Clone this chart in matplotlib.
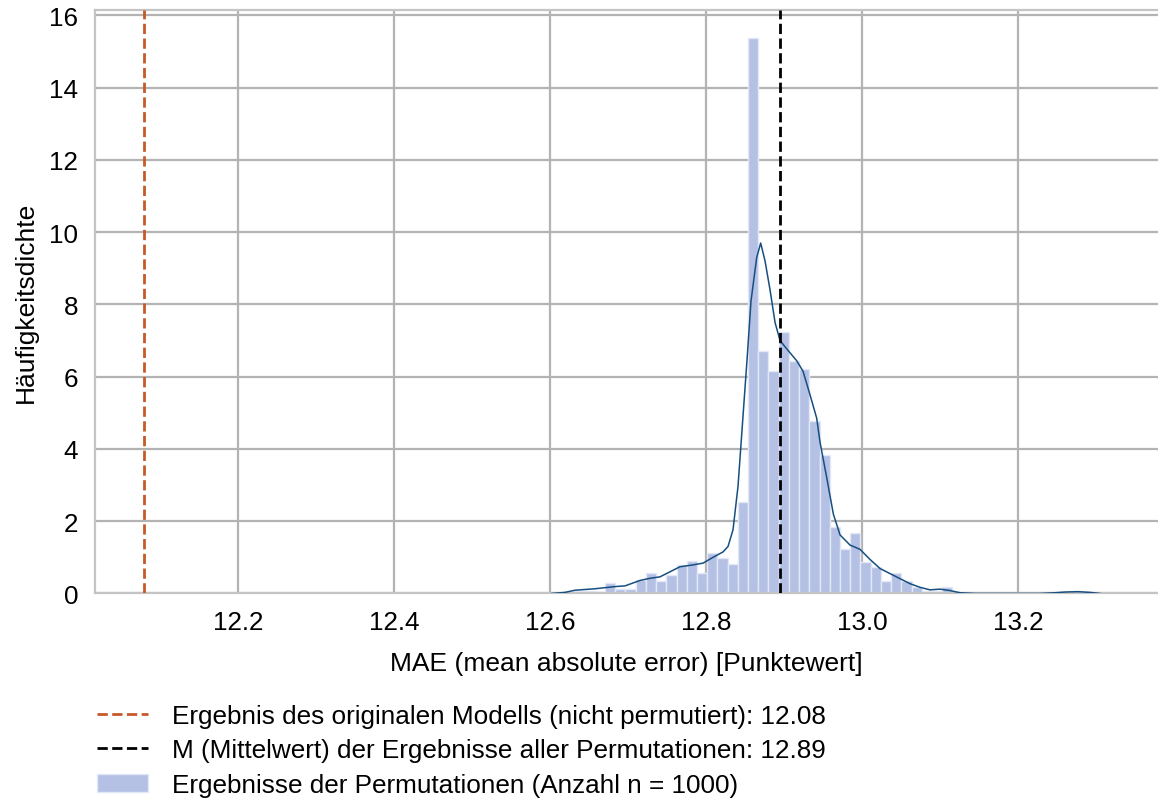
import numpy as np
import matplotlib
matplotlib.use("Agg")
import matplotlib.pyplot as plt
from matplotlib.patches import Patch
from matplotlib.lines import Line2D

# histogram of the permutation results (density per bin)
bin_start = 12.6308
bin_width = 0.0131
densities = [0.08, 0.07, 0.05, 0.28, 0.12, 0.13, 0.37, 0.57, 0.34, 0.50,
             0.80, 0.89, 0.57, 1.11, 0.98, 0.81, 2.54, 15.38, 6.70, 6.15,
             7.25, 6.44, 6.21, 4.76, 3.83, 1.85, 1.23, 1.68, 0.88, 0.74,
             0.35, 0.57, 0.35, 0.19, 0.06, 0.06, 0.19, 0, 0, 0,
             0, 0, 0, 0, 0, 0, 0, 0, 0, 0]

# kde curve
kde_x = [12.6018, 12.6188, 12.6317, 12.6573, 12.6829, 12.6958, 12.7150, 12.7278,
         12.7406, 12.7535, 12.7663, 12.7830, 12.7958, 12.8086, 12.8214, 12.8278,
         12.8342, 12.8406, 12.8470, 12.8522, 12.8573, 12.8646, 12.8697, 12.8753,
         12.8817, 12.8881, 12.8945, 12.9031, 12.9159, 12.9240, 12.9329, 12.9415,
         12.9458, 12.9544, 12.9628, 12.9714, 12.9842, 12.9971, 13.0099, 13.0227,
         13.0355, 13.0483, 13.0612, 13.0740, 13.0868, 13.0996, 13.1124, 13.1253,
         13.1445, 13.2278, 13.2470, 13.2599, 13.2765, 13.2919, 13.3047]
kde_y = [0.0, 0.03, 0.09, 0.13, 0.19, 0.21, 0.36, 0.42,
         0.46, 0.60, 0.74, 0.79, 0.84, 1.00, 1.15, 1.30,
         1.76, 2.96, 4.90, 6.47, 8.10, 9.30, 9.70, 9.20,
         8.40, 7.50, 7.00, 6.77, 6.44, 6.15, 5.50, 4.85,
         4.18, 3.20, 2.20, 1.62, 1.34, 1.22, 0.94, 0.69,
         0.55, 0.41, 0.27, 0.17, 0.10, 0.12, 0.08, 0.02,
         0.0, 0.0, 0.02, 0.04, 0.05, 0.03, 0.0]

orig_mae = 12.079
perm_mean = 12.894
n_perm = 1000

x_ticks = [12.2, 12.4, 12.6, 12.8, 13.0, 13.2]
y_ticks = [0, 2, 4, 6, 8, 10, 12, 14, 16]

plt.rcParams['font.family'] = ['Liberation Sans', 'DejaVu Sans']

fig = plt.figure(figsize=(11.58, 8.03), dpi=100)
ax = fig.add_axes([0.082, 0.2597, 0.918, 0.7266])

edges = bin_start + bin_width * np.arange(len(densities))
ax.bar(edges, densities, width=bin_width, align='edge', color='#b4c0e4',
       edgecolor='#e3e8f6', linewidth=1, zorder=2)
ax.plot(kde_x, kde_y, color='#174f80', linewidth=1.1, zorder=3)

ax.axvline(orig_mae, color='#c55a28', linestyle='--', linewidth=2, zorder=4)
ax.axvline(perm_mean, color='black', linestyle='--', linewidth=2, zorder=4)

ax.set_xlim(12.0163, 13.379)
ax.set_ylim(0, 16.15)
ax.set_xticks(x_ticks)
ax.set_xticklabels(["%.1f" % t for t in x_ticks])
ax.set_yticks(y_ticks)
ax.grid(True, color='#b3b3b3', linewidth=1.6, zorder=0)
ax.set_axisbelow(True)
ax.tick_params(length=0, labelsize=18.7, pad=12)
ax.tick_params(axis='y', pad=12)
for s in ['left', 'bottom', 'top']:
    ax.spines[s].set_color('#c4c4c4')
    ax.spines[s].set_linewidth(1.6)
ax.spines['right'].set_visible(False)

ax.set_xlabel("MAE (mean absolute error) [Punktewert]", fontsize=19, labelpad=12)
ax.set_ylabel("Häufigkeitsdichte", fontsize=19, labelpad=8)

handles = [Line2D([], [], color='#c55a28', linestyle='--', linewidth=2),
           Line2D([], [], color='black', linestyle='--', linewidth=2),
           Patch(facecolor='#b4c0e4', edgecolor='#e3e8f6')]
labels = ["Ergebnis des originalen Modells (nicht permutiert): %.2f" % orig_mae,
          "M (Mittelwert) der Ergebnisse aller Permutationen: %.2f" % perm_mean,
          "Ergebnisse der Permutationen (Anzahl n = %d)" % n_perm]
fig.legend(handles, labels, loc='upper left', bbox_to_anchor=(0.0838, 0.122),
           frameon=False, fontsize=18.8, handlelength=1.95, handletextpad=0.92,
           labelspacing=0.4, borderaxespad=0, borderpad=0)

fig.savefig("out.png", dpi=100)
